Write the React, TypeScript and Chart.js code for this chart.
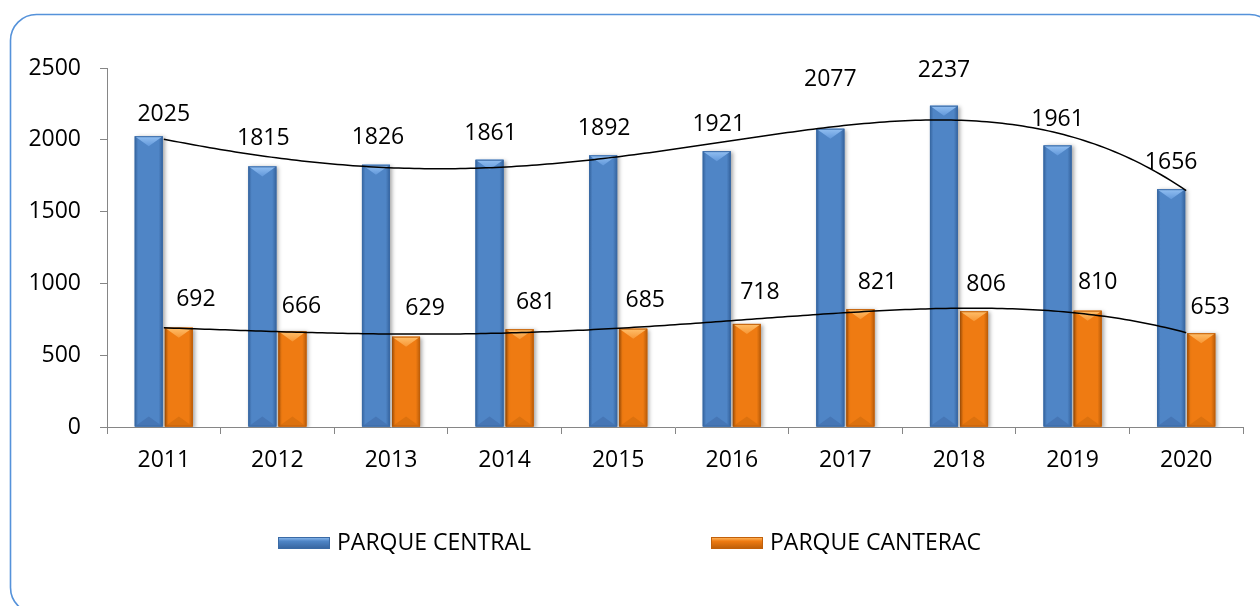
import React, { useEffect, useRef } from "react";
import { Chart, registerables } from "chart.js";

Chart.register(...registerables);

const years = ["2011", "2012", "2013", "2014", "2015", "2016", "2017", "2018", "2019", "2020"];
const parqueCentral = [2025, 1815, 1826, 1861, 1892, 1921, 2077, 2237, 1961, 1656];
const parqueCanterac = [692, 666, 629, 681, 685, 718, 821, 806, 810, 653];
const seriesNames = ["PARQUE CENTRAL", "PARQUE CANTERAC"];
const yMin = 0;
const yMax = 2500;
const yStep = 500;
const trendDegree = 4;

// manual label nudges (pixels), as placed in the original
const centralLabelDx = [15, 1, 2, 1, 1, 2, 0, 0, 0, 0];
const centralLabelDy = [-22, -28, -27, -26, -27, -27, -49, -35, -26, -27];
const canteracLabelDx = [17, 9, 19, 16, 12, 13, 17, 12, 10, 9];
const canteracLabelDy = [-28, -25, -28, -27, -28, -31, -27, -27, -28, -26];

const FONT = '"Open Sans", "Noto Sans", sans-serif';
const FSIZE = 23;

const BLUE = { body: "#4f85c6", edge: "#35639d", top: "#93c0f2", topDark: "#6298da", bottom: "#4676b5", border: "#3a6aa5" };
const ORANGE = { body: "#ef7b12", edge: "#b95c08", top: "#ffc06c", topDark: "#f79634", bottom: "#dc710e", border: "#c2600a" };

// least-squares polynomial fit (Excel-style polynomial trendline)
function polyFit(ys: number[], degree: number): number[] {
  const n = degree + 1;
  const A: number[][] = [];
  for (let i = 0; i < n; i++) A.push(new Array(n + 1).fill(0));
  ys.forEach((y, k) => {
    const x = k + 1;
    for (let i = 0; i < n; i++) {
      for (let j = 0; j < n; j++) A[i][j] += Math.pow(x, i + j);
      A[i][n] += y * Math.pow(x, i);
    }
  });
  for (let c = 0; c < n; c++) {
    let p = c;
    for (let r = c + 1; r < n; r++) if (Math.abs(A[r][c]) > Math.abs(A[p][c])) p = r;
    [A[c], A[p]] = [A[p], A[c]];
    for (let r = 0; r < n; r++) {
      if (r === c) continue;
      const f = A[r][c] / A[c][c];
      for (let j = c; j <= n; j++) A[r][j] -= f * A[c][j];
    }
  }
  return A.map((row, i) => row[n] / A[i][i]);
}

function evalPoly(coef: number[], t: number) {
  let v = 0;
  coef.forEach((c, i) => (v += c * Math.pow(t, i)));
  return v;
}

function drawBevelBar(ctx: CanvasRenderingContext2D, x: number, top: number, base: number, w: number, pal: any) {
  const l = x - w / 2;
  const r = x + w / 2;
  const h = base - top;
  const g = ctx.createLinearGradient(l, 0, r, 0);
  g.addColorStop(0, pal.edge);
  g.addColorStop(0.12, pal.body);
  g.addColorStop(0.85, pal.body);
  g.addColorStop(1, pal.edge);
  ctx.fillStyle = g;
  ctx.fillRect(l, top, w, h);
  const th = Math.min(w * 0.36, h / 2);
  ctx.beginPath();
  ctx.moveTo(l, top);
  ctx.lineTo(r, top);
  ctx.lineTo(x, top + th);
  ctx.closePath();
  const tg = ctx.createLinearGradient(0, top, 0, top + th);
  tg.addColorStop(0, pal.top);
  tg.addColorStop(1, pal.topDark);
  ctx.fillStyle = tg;
  ctx.fill();
  ctx.beginPath();
  ctx.moveTo(l, base);
  ctx.lineTo(r, base);
  ctx.lineTo(x, base - th);
  ctx.closePath();
  ctx.fillStyle = pal.bottom;
  ctx.fill();
  ctx.strokeStyle = pal.border;
  ctx.lineWidth = 1;
  ctx.strokeRect(l + 0.5, top + 0.5, w - 1, h - 1);
}

const framePlugin = {
  id: "frame",
  beforeDraw(chart: any) {
    const ctx = chart.ctx as CanvasRenderingContext2D;
    ctx.save();
    ctx.fillStyle = "#ffffff";
    ctx.fillRect(0, 0, chart.width, chart.height);
    const x = 10.5, y = 14.5, w = 1265, h = 599, rad = 26;
    ctx.beginPath();
    ctx.moveTo(x + rad, y);
    ctx.lineTo(x + w - rad, y);
    ctx.arcTo(x + w, y, x + w, y + rad, rad);
    ctx.lineTo(x + w, y + h - rad);
    ctx.arcTo(x + w, y + h, x + w - rad, y + h, rad);
    ctx.lineTo(x + rad, y + h);
    ctx.arcTo(x, y + h, x, y + h - rad, rad);
    ctx.lineTo(x, y + rad);
    ctx.arcTo(x, y, x + rad, y, rad);
    ctx.closePath();
    ctx.strokeStyle = "#5592da";
    ctx.lineWidth = 1.6;
    ctx.stroke();
    ctx.restore();
  },
};

const barStylePlugin = {
  id: "barStyle",
  beforeDatasetDraw(chart: any) {
    const ctx = chart.ctx as CanvasRenderingContext2D;
    ctx.save();
    ctx.shadowColor = "rgba(0,0,0,0.35)";
    ctx.shadowBlur = 4;
    ctx.shadowOffsetX = 2;
    ctx.shadowOffsetY = 1;
  },
  afterDatasetDraw(chart: any, args: any) {
    const ctx = chart.ctx as CanvasRenderingContext2D;
    ctx.restore();
    const pal = args.index === 0 ? BLUE : ORANGE;
    ctx.save();
    args.meta.data.forEach((el: any) => {
      drawBevelBar(ctx, el.x, el.y, el.base, el.width, pal);
    });
    ctx.restore();
  },
};

// polynomial trendlines, drawn through the chart's own scales
const trendPlugin = {
  id: "trend",
  afterDatasetsDraw(chart: any) {
    const ctx = chart.ctx as CanvasRenderingContext2D;
    const xs = chart.scales.x;
    const ys = chart.scales.y;
    ctx.save();
    ctx.strokeStyle = "#000";
    ctx.lineWidth = 1.5;
    [parqueCentral, parqueCanterac].forEach((vals) => {
      const coef = polyFit(vals, trendDegree);
      ctx.beginPath();
      const steps = 200;
      for (let s = 0; s <= steps; s++) {
        const t = (s / steps) * (vals.length - 1);
        const px = xs.getPixelForValue(t);
        const py = ys.getPixelForValue(evalPoly(coef, t + 1));
        if (s === 0) ctx.moveTo(px, py);
        else ctx.lineTo(px, py);
      }
      ctx.stroke();
    });
    ctx.restore();
  },
};

const labelPlugin = {
  id: "valueLabels",
  afterDraw(chart: any) {
    const ctx = chart.ctx as CanvasRenderingContext2D;
    ctx.save();
    ctx.font = `${FSIZE}px ${FONT}`;
    ctx.fillStyle = "#000";
    ctx.textAlign = "center";
    ctx.textBaseline = "middle";
    const sets = [
      { vals: parqueCentral, dx: centralLabelDx, dy: centralLabelDy },
      { vals: parqueCanterac, dx: canteracLabelDx, dy: canteracLabelDy },
    ];
    sets.forEach((s, di) => {
      const meta = chart.getDatasetMeta(di);
      meta.data.forEach((el: any, i: number) => {
        ctx.fillText(String(s.vals[i]), el.x + s.dx[i], el.y + s.dy[i]);
      });
    });
    const items = [
      { name: seriesNames[0], pal: BLUE, x: 278 },
      { name: seriesNames[1], pal: ORANGE, x: 711 },
    ];
    const ly = 543;
    items.forEach((it) => {
      const mw = 52, mh = 12;
      const top = ly - mh / 2;
      const g = ctx.createLinearGradient(0, top, 0, top + mh);
      g.addColorStop(0, it.pal.top);
      g.addColorStop(0.35, it.pal.body);
      g.addColorStop(1, it.pal.edge);
      ctx.fillStyle = g;
      ctx.fillRect(it.x, top, mw, mh);
      ctx.strokeStyle = it.pal.border;
      ctx.lineWidth = 1;
      ctx.strokeRect(it.x + 0.5, top + 0.5, mw - 1, mh - 1);
      ctx.fillStyle = "#000";
      ctx.textAlign = "left";
      ctx.fillText(it.name, it.x + mw + 7, ly);
    });
    ctx.restore();
  },
};

export default function App() {
  const ref = useRef<HTMLCanvasElement | null>(null);
  useEffect(() => {
    if (!ref.current) return;
    const axisColor = "#868686";
    const chart = new Chart(ref.current, {
      type: "bar",
      data: {
        labels: years,
        datasets: [
          {
            label: seriesNames[0],
            data: parqueCentral,
            backgroundColor: BLUE.body,
            categoryPercentage: 0.53,
            barPercentage: 0.93,
          },
          {
            label: seriesNames[1],
            data: parqueCanterac,
            backgroundColor: ORANGE.body,
            categoryPercentage: 0.53,
            barPercentage: 0.93,
          },
        ],
      },
      options: {
        animation: false,
        responsive: true,
        maintainAspectRatio: false,
        layout: { padding: { top: 68, right: 17, left: 0, bottom: 0 } },
        plugins: { legend: { display: false }, tooltip: { enabled: false } },
        scales: {
          x: {
            grid: { offset: true, drawOnChartArea: false, drawTicks: true, tickLength: 7, color: axisColor },
            border: { display: true, color: axisColor, width: 1 },
            ticks: { color: "#000", font: { family: FONT, size: FSIZE }, padding: 13, maxRotation: 0 },
            afterFit: (s: any) => {
              s.height = 179;
            },
          },
          y: {
            min: yMin,
            max: yMax,
            ticks: {
              stepSize: yStep,
              color: "#000",
              font: { family: FONT, size: FSIZE },
              padding: 19,
              callback: (v: any) => String(v),
            },
            grid: { drawOnChartArea: false, drawTicks: true, tickLength: 7, color: axisColor },
            border: { display: true, color: axisColor, width: 1 },
            afterFit: (s: any) => {
              s.width = 107;
            },
          },
        } as any,
      },
      plugins: [framePlugin, barStylePlugin, trendPlugin, labelPlugin],
    } as any);
    return () => chart.destroy();
  }, []);
  return (
    <div style={{ position: "fixed", left: 0, top: 0, width: 1260, height: 606 }}>
      <canvas ref={ref} />
    </div>
  );
}
